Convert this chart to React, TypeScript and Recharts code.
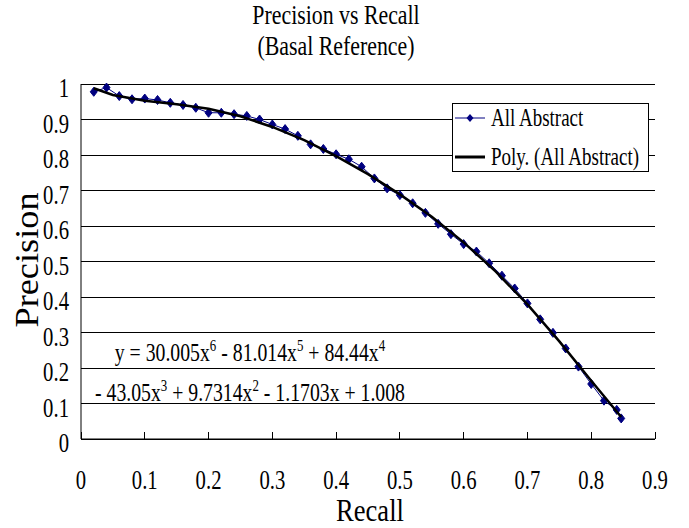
import React from 'react';
import { ComposedChart, Scatter, XAxis, YAxis, CartesianGrid, Legend, Customized } from 'recharts';

// measured points (Recall, Precision)
const recall = [
  0.02, 0.04, 0.06, 0.08, 0.1, 0.12, 0.14, 0.16, 0.18, 0.2, 0.22, 0.24, 0.26, 0.28, 0.3,
  0.32, 0.34, 0.36, 0.38, 0.4, 0.42, 0.44, 0.46, 0.48, 0.5, 0.52, 0.54, 0.56, 0.58, 0.6,
  0.62, 0.64, 0.66, 0.68, 0.7, 0.72, 0.74, 0.76, 0.78, 0.8, 0.82, 0.84, 0.847,
];
const precision = [
  0.978, 0.99, 0.966, 0.957, 0.959, 0.955, 0.947, 0.941, 0.933, 0.919, 0.919, 0.915, 0.91, 0.9, 0.886,
  0.873, 0.854, 0.83, 0.817, 0.802, 0.788, 0.767, 0.734, 0.706, 0.687, 0.664, 0.637, 0.606, 0.577, 0.549,
  0.528, 0.495, 0.46, 0.424, 0.382, 0.337, 0.299, 0.255, 0.204, 0.155, 0.108, 0.082, 0.058,
];

// poly trendline as drawn
const trendRecall = [0.02, 0.05, 0.1, 0.15, 0.2, 0.25, 0.3, 0.35, 0.4, 0.45, 0.5, 0.55, 0.6, 0.65, 0.7, 0.75, 0.8, 0.825, 0.847];
const trendPrecision = [0.988, 0.969, 0.953, 0.943, 0.93, 0.909, 0.879, 0.842, 0.797, 0.746, 0.689, 0.626, 0.554, 0.472, 0.379, 0.275, 0.164, 0.11, 0.062];

const xTicks = [0, 0.1, 0.2, 0.3, 0.4, 0.5, 0.6, 0.7, 0.8, 0.9];
const yTicks = [0, 0.1, 0.2, 0.3, 0.4, 0.5, 0.6, 0.7, 0.8, 0.9, 1];

const seriesNames = ['All Abstract', 'Poly. (All Abstract)'];
const titleLines = ['Precision vs Recall', '(Basal Reference)'];
const eqLine1 = [['y = 30.005x', '6'], [' - 81.014x', '5'], [' + 84.44x', '4']];
const eqLine2 = [['- 43.05x', '3'], [' + 9.7314x', '2'], [' - 1.1703x + 1.008', '']];

const points = recall.map((x, i) => ({ x, y: precision[i] }));
const trend = trendRecall.map((x, i) => ({ x, y: trendPrecision[i] }));

const FONT = '"Liberation Serif", "Times New Roman", serif';
const NAVY = '#000080';

const Diamond = (props: any) => {
  const { cx, cy } = props;
  if (cx == null || cy == null) return <g />;
  return <polygon points={`${cx},${cy - 4.5} ${cx + 3.5},${cy} ${cx},${cy + 4.5} ${cx - 3.5},${cy}`} fill={NAVY} stroke={NAVY} />;
};

const Squeezed = ({ x, y, size, sx = 0.74, anchor = 'middle', rotate = 0, children }: any) => (
  <g transform={`translate(${x},${y}) rotate(${rotate}) scale(${sx},1)`}>
    <text x={0} y={0} textAnchor={anchor} fontFamily={FONT} fontSize={size} fill="#000">
      {children}
    </text>
  </g>
);

const XTick = (props: any) => {
  const { x, y, payload } = props;
  return (
    <g>
      <line x1={x} x2={x} y1={y} y2={y - 7} stroke="#000" shapeRendering="crispEdges" />
      <Squeezed x={x} y={y + 50} size={28}>{String(payload.value)}</Squeezed>
    </g>
  );
};

const YTick = (props: any) => {
  const { x, y, payload } = props;
  return <Squeezed x={x} y={y + 13} size={28} anchor="end">{String(payload.value)}</Squeezed>;
};

const eqSpans = (parts: string[][]) =>
  parts.flatMap(([base, sup], i) => [
    <tspan key={`b${i}`} fontSize={26} dy={i === 0 ? 0 : 10}>{base}</tspan>,
    sup ? <tspan key={`s${i}`} fontSize={17} dy={-10}>{sup}</tspan> : null,
  ]);

const Annotations = () => (
  <g>
    <Squeezed x={336} y={24} size={28} sx={0.78}>{titleLines[0]}</Squeezed>
    <Squeezed x={336} y={55} size={28} sx={0.78}>{titleLines[1]}</Squeezed>
    <Squeezed x={370} y={521} size={32} sx={0.83}>Recall</Squeezed>
    <Squeezed x={38} y={260} size={33} sx={1.1} rotate={-90}>Precision</Squeezed>
    <Squeezed x={250} y={361} size={26} sx={0.76}>{eqSpans(eqLine1)}</Squeezed>
    <Squeezed x={250} y={401} size={26} sx={0.76}>{eqSpans(eqLine2)}</Squeezed>
  </g>
);

const LegendBox = () => (
  <svg width={197} height={69} style={{ display: 'block' }}>
    <rect x={0.5} y={0.5} width={196} height={68} fill="#fff" stroke="#000" />
    <line x1={3} x2={33} y1={15} y2={15} stroke={NAVY} strokeWidth={1} />
    <polygon points="18,11 21.5,15 18,19 14.5,15" fill={NAVY} />
    <line x1={3} x2={33} y1={54} y2={54} stroke="#000" strokeWidth={3} />
    <Squeezed x={39} y={23} size={25} sx={0.76} anchor="start">{seriesNames[0]}</Squeezed>
    <Squeezed x={39} y={62} size={25} sx={0.76} anchor="start">{seriesNames[1]}</Squeezed>
  </svg>
);

export default function App() {
  return (
    <div style={{ position: 'absolute', left: 0, top: 0, width: 689, height: 528, background: '#fff' }}>
      <ComposedChart width={689} height={528} margin={{ top: 84, right: 34, bottom: 0, left: 0 }}>
        <CartesianGrid yAxisId="left" vertical={false} stroke="#000" shapeRendering="crispEdges" />
        <XAxis
          type="number"
          dataKey="x"
          domain={[0, 0.9]}
          ticks={xTicks}
          interval={0}
          height={89}
          axisLine={{ stroke: '#000' }}
          tickLine={false}
          tickSize={0}
          tickMargin={0}
          tick={(p: any) => <XTick {...p} />}
        />
        <YAxis
          yAxisId="left"
          type="number"
          dataKey="y"
          domain={[0, 1]}
          ticks={yTicks}
          interval={0}
          width={81}
          axisLine={{ stroke: '#000' }}
          tickLine={false}
          tickSize={0}
          tickMargin={12}
          tick={(p: any) => <YTick {...p} />}
        />
        <YAxis yAxisId="right" orientation="right" type="number" domain={[0, 1]} width={0} tick={false} tickLine={false} axisLine={{ stroke: '#000' }} />
        <Legend
          layout="vertical"
          align="center"
          verticalAlign="middle"
          wrapperStyle={{ left: 452, top: 103, width: 197, height: 69 }}
          content={() => <LegendBox />}
        />
        <Scatter
          yAxisId="left"
          name={seriesNames[0]}
          data={points}
          line={{ stroke: NAVY, strokeWidth: 1 }}
          shape={Diamond}
          isAnimationActive={false}
        />
        <Scatter
          yAxisId="left"
          name={seriesNames[1]}
          data={trend}
          line={{ stroke: '#000', strokeWidth: 2.5 }}
          shape={() => <g />}
          isAnimationActive={false}
        />
        <Customized component={Annotations} />
      </ComposedChart>
    </div>
  );
}
